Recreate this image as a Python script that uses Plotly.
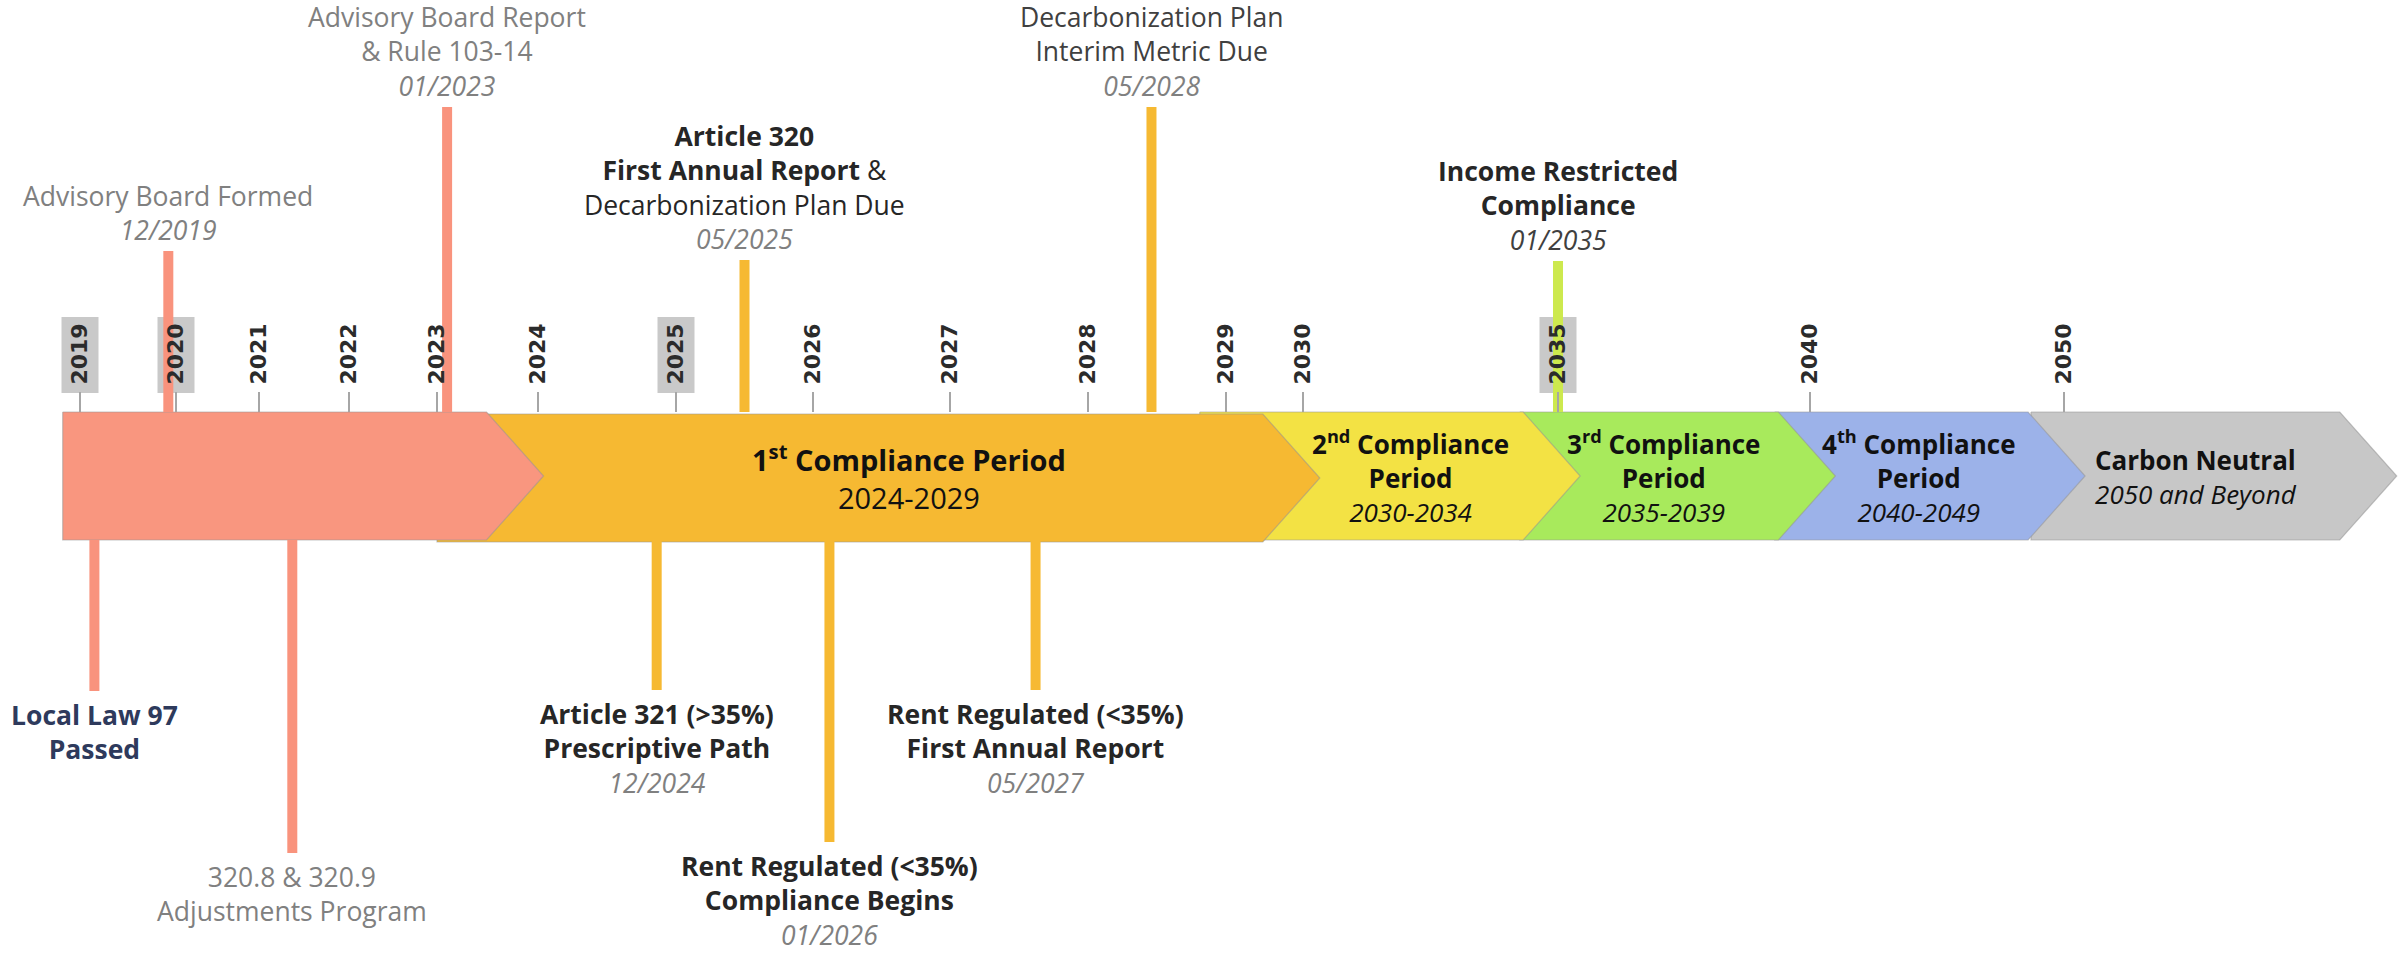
import numpy as np
import plotly.graph_objects as go

# ---------------- data ----------------
tick_years = [2019, 2020, 2021, 2022, 2023, 2024, 2025, 2026, 2027, 2028, 2029, 2030, 2035, 2040, 2050]
boxed_years = [2019, 2020, 2025, 2035]

period_start = [2018.82, 2023.0, 2028.81, 2034.25, 2039.3, 2048.7]
period_end = [2024.04, 2030.33, 2035.44, 2041.0, 2050.83, 2063.1]
period_label_at = [None, 2026.7, 2032.1, 2037.1, 2044.3, 2055.2]
period_labels = [
    None,
    "<b>1<sup>st</sup> Compliance Period</b><br>2024-2029",
    "<b>2<sup>nd</sup> Compliance<br>Period</b><br><i>2030-2034</i>",
    "<b>3<sup>rd</sup> Compliance<br>Period</b><br><i>2035-2039</i>",
    "<b>4<sup>th</sup> Compliance<br>Period</b><br><i>2040-2049</i>",
    "<b>Carbon Neutral</b><br><i>2050 and Beyond</i>",
]

events_above_year = [2019.92, 2023.1, 2025.5, 2028.46, 2035.0]
events_above_text = [
    "Advisory Board Formed<br><i>12/2019</i>",
    "Advisory Board Report<br>&amp; Rule 103-14<br><i>01/2023</i>",
    "<b>Article 320</b><br><b>First Annual Report</b> &amp;<br>Decarbonization Plan Due<br><i><span style='color:#808080'>05/2025</span></i>",
    "Decarbonization Plan<br>Interim Metric Due<br><i><span style='color:#808080'>05/2028</span></i>",
    "<b>Income Restricted<br>Compliance</b><br><i><span style='color:#404040'>01/2035</span></i>",
]
events_below_year = [2019.15, 2021.37, 2024.86, 2026.12, 2027.62]
events_below_text = [
    "<b>Local Law 97<br>Passed</b>",
    "320.8 &amp; 320.9<br>Adjustments Program",
    "<b>Article 321 (&gt;35%)<br>Prescriptive Path</b><br><i><span style='color:#808080'>12/2024</span></i>",
    "<b>Rent Regulated (&lt;35%)<br>Compliance Begins</b><br><i><span style='color:#808080'>01/2026</span></i>",
    "<b>Rent Regulated (&lt;35%)<br>First Annual Report</b><br><i><span style='color:#808080'>05/2027</span></i>",
]

# ---------------- layout / style ----------------
W, H = 2405, 955
# irregular timeline scale: year -> axis coordinate
scale_years = tick_years
scale_pos = [80, 176, 259, 349, 437, 538, 676, 813, 950, 1088, 1226, 1303, 1558, 1810, 2064]


def X(year):
    ys, ps = scale_years, scale_pos
    if year < ys[0]:
        return ps[0] + (year - ys[0]) * (ps[1] - ps[0]) / (ys[1] - ys[0])
    if year > ys[-1]:
        return ps[-1] + (year - ys[-1]) * (ps[-1] - ps[-2]) / (ys[-1] - ys[-2])
    return float(np.interp(year, ys, ps))


period_colors = ["#F9967F", "#F6B932", "#F3E244", "#A8EA5C", "#9CB2E9", "#C7C7C7"]
period_offsets = [0, 2, 0, 0, 0, 0]
above_colors = ["#F9937D", "#F9937D", "#F6B932", "#F6B932", "#CDE94E"]
below_colors = ["#F9937D", "#F9937D", "#F6B932", "#F6B932", "#F6B932"]
above_font_colors = ["#808080", "#808080", "#262626", "#404040", "#262626"]
below_font_colors = ["#2E3A5C", "#808080", "#262626", "#262626", "#262626"]
above_stem_top = [251, 107, 260, 107, 261]
below_stem_bottom = [691, 853, 690, 842, 690]
period_font_sizes = [0, 29, 26, 26, 26, 26]

BAR_TOP, BAR_BOT = 412, 540
BAR_MID = (BAR_TOP + BAR_BOT) / 2
TIP = 57
FONT = "Open Sans"
LABEL_SIZE = 26.5

fig = go.Figure()

# chevron bar segments (later ones underneath)
for i in reversed(range(len(period_start))):
    x0 = X(period_start[i])
    xt = X(period_end[i])
    xr = xt - TIP
    o = period_offsets[i]
    fig.add_trace(go.Scatter(
        x=[x0, xr, xt, xr, x0, x0],
        y=[BAR_TOP + o, BAR_TOP + o, BAR_MID + o, BAR_BOT + o, BAR_BOT + o, BAR_TOP + o],
        mode="lines", fill="toself", fillcolor=period_colors[i],
        line=dict(color="rgba(150,150,150,0.55)", width=1.2),
        hoverinfo="skip", showlegend=False,
    ))

# event stems
for yr, top, c in zip(events_above_year, above_stem_top, above_colors):
    fig.add_trace(go.Scatter(x=[X(yr), X(yr)], y=[top, BAR_TOP], mode="lines",
                             line=dict(color=c, width=10), hoverinfo="skip", showlegend=False))
for yr, bot, c in zip(events_below_year, below_stem_bottom, below_colors):
    fig.add_trace(go.Scatter(x=[X(yr), X(yr)], y=[BAR_BOT, bot], mode="lines",
                             line=dict(color=c, width=10), hoverinfo="skip", showlegend=False))

annotations = []
for yr, txt, top, fc in zip(events_above_year, events_above_text, above_stem_top, above_font_colors):
    annotations.append(dict(x=X(yr), y=top - 1, xref="x", yref="y", text=txt, showarrow=False,
                            xanchor="center", yanchor="bottom", align="center",
                            font=dict(family=FONT, size=LABEL_SIZE, color=fc)))
for yr, txt, bot, fc in zip(events_below_year, events_below_text, below_stem_bottom, below_font_colors):
    annotations.append(dict(x=X(yr), y=bot + 4, xref="x", yref="y", text=txt, showarrow=False,
                            xanchor="center", yanchor="top", align="center",
                            font=dict(family=FONT, size=LABEL_SIZE, color=fc)))
for at, txt, fs in zip(period_label_at, period_labels, period_font_sizes):
    if at is None:
        continue
    annotations.append(dict(x=X(at), y=BAR_MID + 1, xref="x", yref="y", text=txt, showarrow=False,
                            xanchor="center", yanchor="middle", align="center",
                            font=dict(family=FONT, size=fs, color="#111111")))

# gray boxes behind highlighted year labels
shapes = []
for yr in boxed_years:
    shapes.append(dict(type="rect", xref="x", yref="y", x0=X(yr) - 18.5, x1=X(yr) + 18.5,
                       y0=317, y1=393, fillcolor="#C9C9C9", line=dict(width=0), layer="below"))

fig.update_layout(
    width=W, height=H,
    margin=dict(l=0, r=0, t=0, b=0),
    paper_bgcolor="white", plot_bgcolor="white",
    xaxis=dict(range=[0, W], side="top", anchor="free", position=1 - BAR_TOP / H,
               tickmode="array", tickvals=[X(y) for y in tick_years], ticktext=[str(y) for y in tick_years],
               tickangle=-90, ticks="outside", ticklen=20, tickwidth=2, tickcolor="#A6A6A6",
               tickfont=dict(family="DejaVu Sans", size=22, color="#2B2B2B", weight="bold"),
               ticklabelstandoff=3,
               showgrid=False, zeroline=False, showline=False, fixedrange=True),
    yaxis=dict(range=[H, 0], visible=False, showgrid=False, zeroline=False, fixedrange=True),
    annotations=annotations,
    shapes=shapes,
)

fig.write_html("out.html", config={"displayModeBar": False},
               post_script="document.body.style.margin='0px';document.body.style.overflow='hidden';")
